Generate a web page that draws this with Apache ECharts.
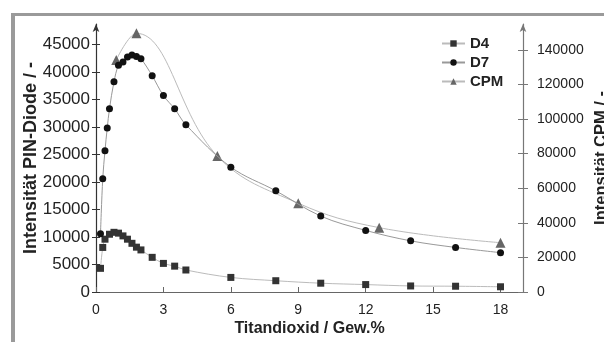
<!DOCTYPE html>
<html>
<head>
<meta charset="utf-8">
<script src="https://cdn.jsdelivr.net/npm/echarts@6/dist/echarts.min.js"></script>
<style>
html,body{margin:0;padding:0;background:#fff;}
#chart{width:604px;height:342px;}
</style>
</head>
<body>
<div id="chart"></div>
<script>
// ---- data ----
var seriesNames = ['D4', 'D7', 'CPM'];
var xD4 = [0.2, 0.3, 0.4, 0.6, 0.8, 1.0, 1.2, 1.4, 1.6, 1.8, 2.0, 2.5, 3.0, 3.5, 4.0, 6, 8, 10, 12, 14, 16, 18];
var yD4 = [4300, 8100, 9600, 10500, 10850, 10700, 10200, 9600, 8850, 8150, 7650, 6300, 5200, 4700, 4000, 2650, 2050, 1600, 1350, 1100, 1050, 950];
var xD7 = [0.2, 0.3, 0.4, 0.5, 0.6, 0.8, 1.0, 1.2, 1.4, 1.6, 1.8, 2.0, 2.5, 3.0, 3.5, 4.0, 6, 8, 10, 12, 14, 16, 18];
var yD7 = [10600, 20600, 25700, 29800, 33300, 38200, 41200, 41800, 42700, 43100, 42800, 42400, 39300, 35700, 33300, 30400, 22700, 18400, 13800, 11200, 9300, 8100, 7150];
var xCPM = [0.9, 1.8, 5.4, 9, 12.6, 18];
var yCPM = [134100, 149500, 78600, 51300, 37200, 28500];
var xTicks = [0, 3, 6, 9, 12, 15, 18];
var leftTicks = [0, 5000, 10000, 15000, 20000, 25000, 30000, 35000, 40000, 45000];
var rightTicks = [0, 20000, 40000, 60000, 80000, 100000, 120000, 140000];

function pairs(xs, ys) { return xs.map(function (x, i) { return [x, ys[i]]; }); }
function plain(v) { return String(v); }

var LEFT_MAX = 48720, RIGHT_MAX = 154900, X_MAX = 19;
var fontA = 'Liberation Sans, Arial, sans-serif';

var chart = echarts.init(document.getElementById('chart'), null, {renderer: 'canvas'});
var option = {
  animation: false,
  backgroundColor: '#fff',
  graphic: [
    {type: 'rect', shape: {x: 11, y: 13, width: 593, height: 3}, style: {fill: '#9a9a9a'}, silent: true},
    {type: 'rect', shape: {x: 11, y: 13, width: 4, height: 329}, style: {fill: '#9a9a9a'}, silent: true}
  ],
  grid: {left: 96, right: 81, top: 24, bottom: 50, containLabel: false, outerBoundsMode: 'none'},
  legend: {
    data: seriesNames,
    orient: 'vertical',
    left: 436, top: 31,
    itemWidth: 23, itemHeight: 8, itemGap: 4,
    textStyle: {fontFamily: fontA, fontWeight: 'bold', fontSize: 15, color: '#222'}
  },
  xAxis: {
    type: 'value', min: 0, max: X_MAX,
    name: 'Titandioxid / Gew.%', nameLocation: 'middle', nameGap: 29, nameMoveOverlap: false,
    nameTextStyle: {fontFamily: fontA, fontWeight: 'bold', fontSize: 16, color: '#222'},
    axisLine: {lineStyle: {color: '#666', width: 1.2}},
    axisTick: {inside: true, length: 5, lineStyle: {color: '#666'}, customValues: xTicks},
    axisLabel: {fontFamily: fontA, fontSize: 14, color: '#222', margin: 11, customValues: xTicks, formatter: plain},
    splitLine: {show: false}
  },
  yAxis: [
    {
      type: 'value', position: 'left', min: 0, max: LEFT_MAX,
      name: 'Intensität PIN-Diode / -', nameLocation: 'middle', nameGap: 56, nameRotate: 90, nameMoveOverlap: false,
      nameTextStyle: {fontFamily: fontA, fontWeight: 'bold', fontSize: 18, color: '#222'},
      axisLine: {show: true, lineStyle: {color: '#333', width: 1.2}, symbol: ['none', 'arrow'], symbolSize: [5, 8], symbolOffset: [0, 0]},
      axisTick: {show: true, inside: false, length: 4, lineStyle: {color: '#333'}, customValues: leftTicks},
      axisLabel: {fontFamily: fontA, fontSize: 17, color: '#222', margin: 6, customValues: leftTicks, formatter: plain},
      splitLine: {show: false}
    },
    {
      type: 'value', position: 'right', min: 0, max: RIGHT_MAX,
      name: 'Intensität CPM / -', nameLocation: 'middle', nameGap: 70, nameRotate: 90, nameMoveOverlap: false,
      nameTextStyle: {fontFamily: fontA, fontWeight: 'bold', fontSize: 16.5, color: '#222'},
      axisLine: {show: true, lineStyle: {color: '#777', width: 1.2}, symbol: ['none', 'arrow'], symbolSize: [5, 8], symbolOffset: [0, 0]},
      axisTick: {show: true, inside: false, length: 5, lineStyle: {color: '#777'}, customValues: rightTicks},
      axisLabel: {fontFamily: fontA, fontSize: 14, color: '#222', margin: 14, customValues: rightTicks, formatter: plain},
      splitLine: {show: false}
    },
    {
      type: 'value', position: 'left', min: 0, max: LEFT_MAX,
      axisLine: {show: false},
      axisTick: {show: true, inside: true, length: 4, lineStyle: {color: '#333'}, customValues: leftTicks},
      axisLabel: {show: false}, splitLine: {show: false}
    },
    {
      type: 'value', position: 'right', min: 0, max: RIGHT_MAX,
      axisLine: {show: false},
      axisTick: {show: true, inside: true, length: 5, lineStyle: {color: '#777'}, customValues: rightTicks},
      axisLabel: {show: false}, splitLine: {show: false}
    }
  ],
  series: [
    {
      name: 'D4', type: 'line', yAxisIndex: 0, data: pairs(xD4, yD4),
      smooth: 0.35, symbol: 'rect', symbolSize: 7,
      itemStyle: {color: '#333'}, lineStyle: {color: '#bbb', width: 1}, z: 3
    },
    {
      name: 'D7', type: 'line', yAxisIndex: 0, data: pairs(xD7, yD7),
      smooth: 0.35, symbol: 'circle', symbolSize: 7,
      itemStyle: {color: '#111'}, lineStyle: {color: '#999', width: 1}, z: 3
    },
    {
      name: 'CPM', type: 'line', yAxisIndex: 1, data: pairs(xCPM, yCPM),
      smooth: 0.4, symbol: 'triangle', symbolSize: 10,
      itemStyle: {color: '#666'}, lineStyle: {color: '#bbb', width: 1}, z: 2
    }
  ]
};
chart.setOption(option);
</script>
</body>
</html>
